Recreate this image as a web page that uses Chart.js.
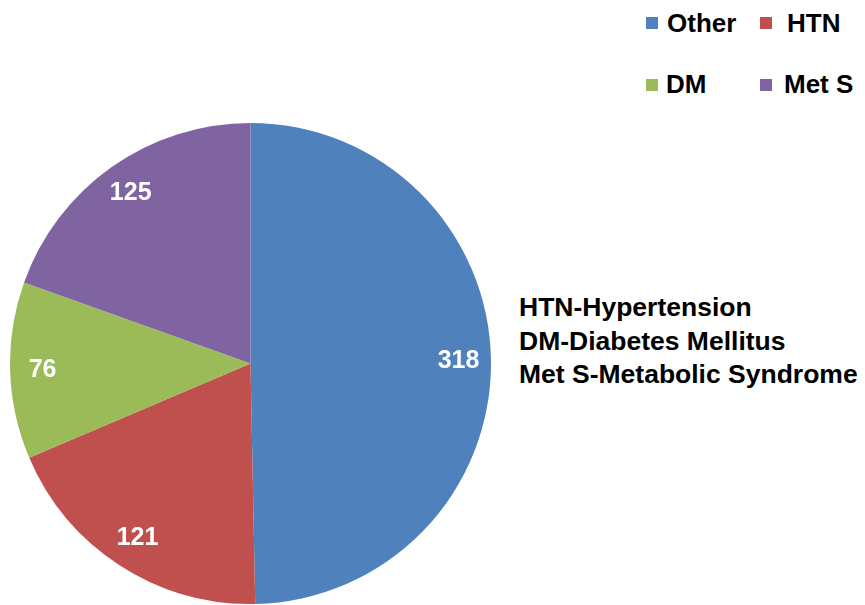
<!DOCTYPE html>
<html>
<head>
<meta charset="utf-8">
<script src="https://cdn.jsdelivr.net/npm/chart.js@4/dist/chart.umd.min.js"></script>
<style>
  html, body { margin: 0; padding: 0; background: #ffffff; }
  body { width: 865px; height: 605px; position: relative; overflow: hidden;
         font-family: "Liberation Sans", Arial, sans-serif; font-weight: bold; color: #000; }
  #pieWrap { position: absolute; left: 10px; top: 123px; width: 481px; height: 481px; }
  .lg { position: absolute; font-size: 26px; line-height: 26px; white-space: nowrap; }
  .sw { position: absolute; width: 12px; height: 12px; }
  #notes { position: absolute; left: 519px; top: 291px; font-size: 26.5px; line-height: 33.5px; white-space: nowrap; }
</style>
</head>
<body>
<div id="pieWrap"><canvas id="pieChart"></canvas></div>

<div class="sw" style="left:646px; top:17px; background:#4F81BD;"></div>
<div class="lg" style="left:667px; top:10px;">Other</div>
<div class="sw" style="left:760px; top:17px; background:#C0504D;"></div>
<div class="lg" style="left:787px; top:10px;">HTN</div>
<div class="sw" style="left:646px; top:79px; background:#9BBB59;"></div>
<div class="lg" style="left:666px; top:71px;">DM</div>
<div class="sw" style="left:760px; top:79px; background:#8064A2;"></div>
<div class="lg" style="left:784px; top:71px;">Met S</div>

<div id="notes">
  HTN-Hypertension<br>
  DM-Diabetes Mellitus<br>
  Met S-Metabolic Syndrome
</div>

<script>
const categories = ['Other', 'HTN', 'DM', 'Met S'];
const patientCounts = [318, 121, 76, 125];
const sliceColors = ['#4F81BD', '#C0504D', '#9BBB59', '#8064A2'];

const sliceValueLabels = {
  id: 'sliceValueLabels',
  afterDatasetsDraw(chart) {
    const { ctx } = chart;
    const meta = chart.getDatasetMeta(0);
    ctx.save();
    ctx.fillStyle = '#ffffff';
    ctx.font = 'bold 25px "Liberation Sans", Arial, sans-serif';
    ctx.textAlign = 'center';
    ctx.textBaseline = 'middle';
    meta.data.forEach(function (arc, i) {
      const p = arc.getProps(['x', 'y', 'startAngle', 'endAngle', 'outerRadius'], true);
      const mid = (p.startAngle + p.endAngle) / 2;
      const r = p.outerRadius * 0.865;
      ctx.fillText(String(chart.data.datasets[0].data[i]), p.x + Math.cos(mid) * r, p.y + Math.sin(mid) * r);
    });
    ctx.restore();
  }
};

new Chart(document.getElementById('pieChart').getContext('2d'), {
  type: 'pie',
  plugins: [sliceValueLabels],
  data: {
    labels: categories,
    datasets: [{
      data: patientCounts,
      backgroundColor: sliceColors,
      borderWidth: 0
    }]
  },
  options: {
    responsive: true,
    maintainAspectRatio: false,
    animation: false,
    layout: { padding: 0 },
    plugins: {
      legend: { display: false },
      tooltip: { enabled: false }
    }
  }
});
</script>
</body>
</html>
